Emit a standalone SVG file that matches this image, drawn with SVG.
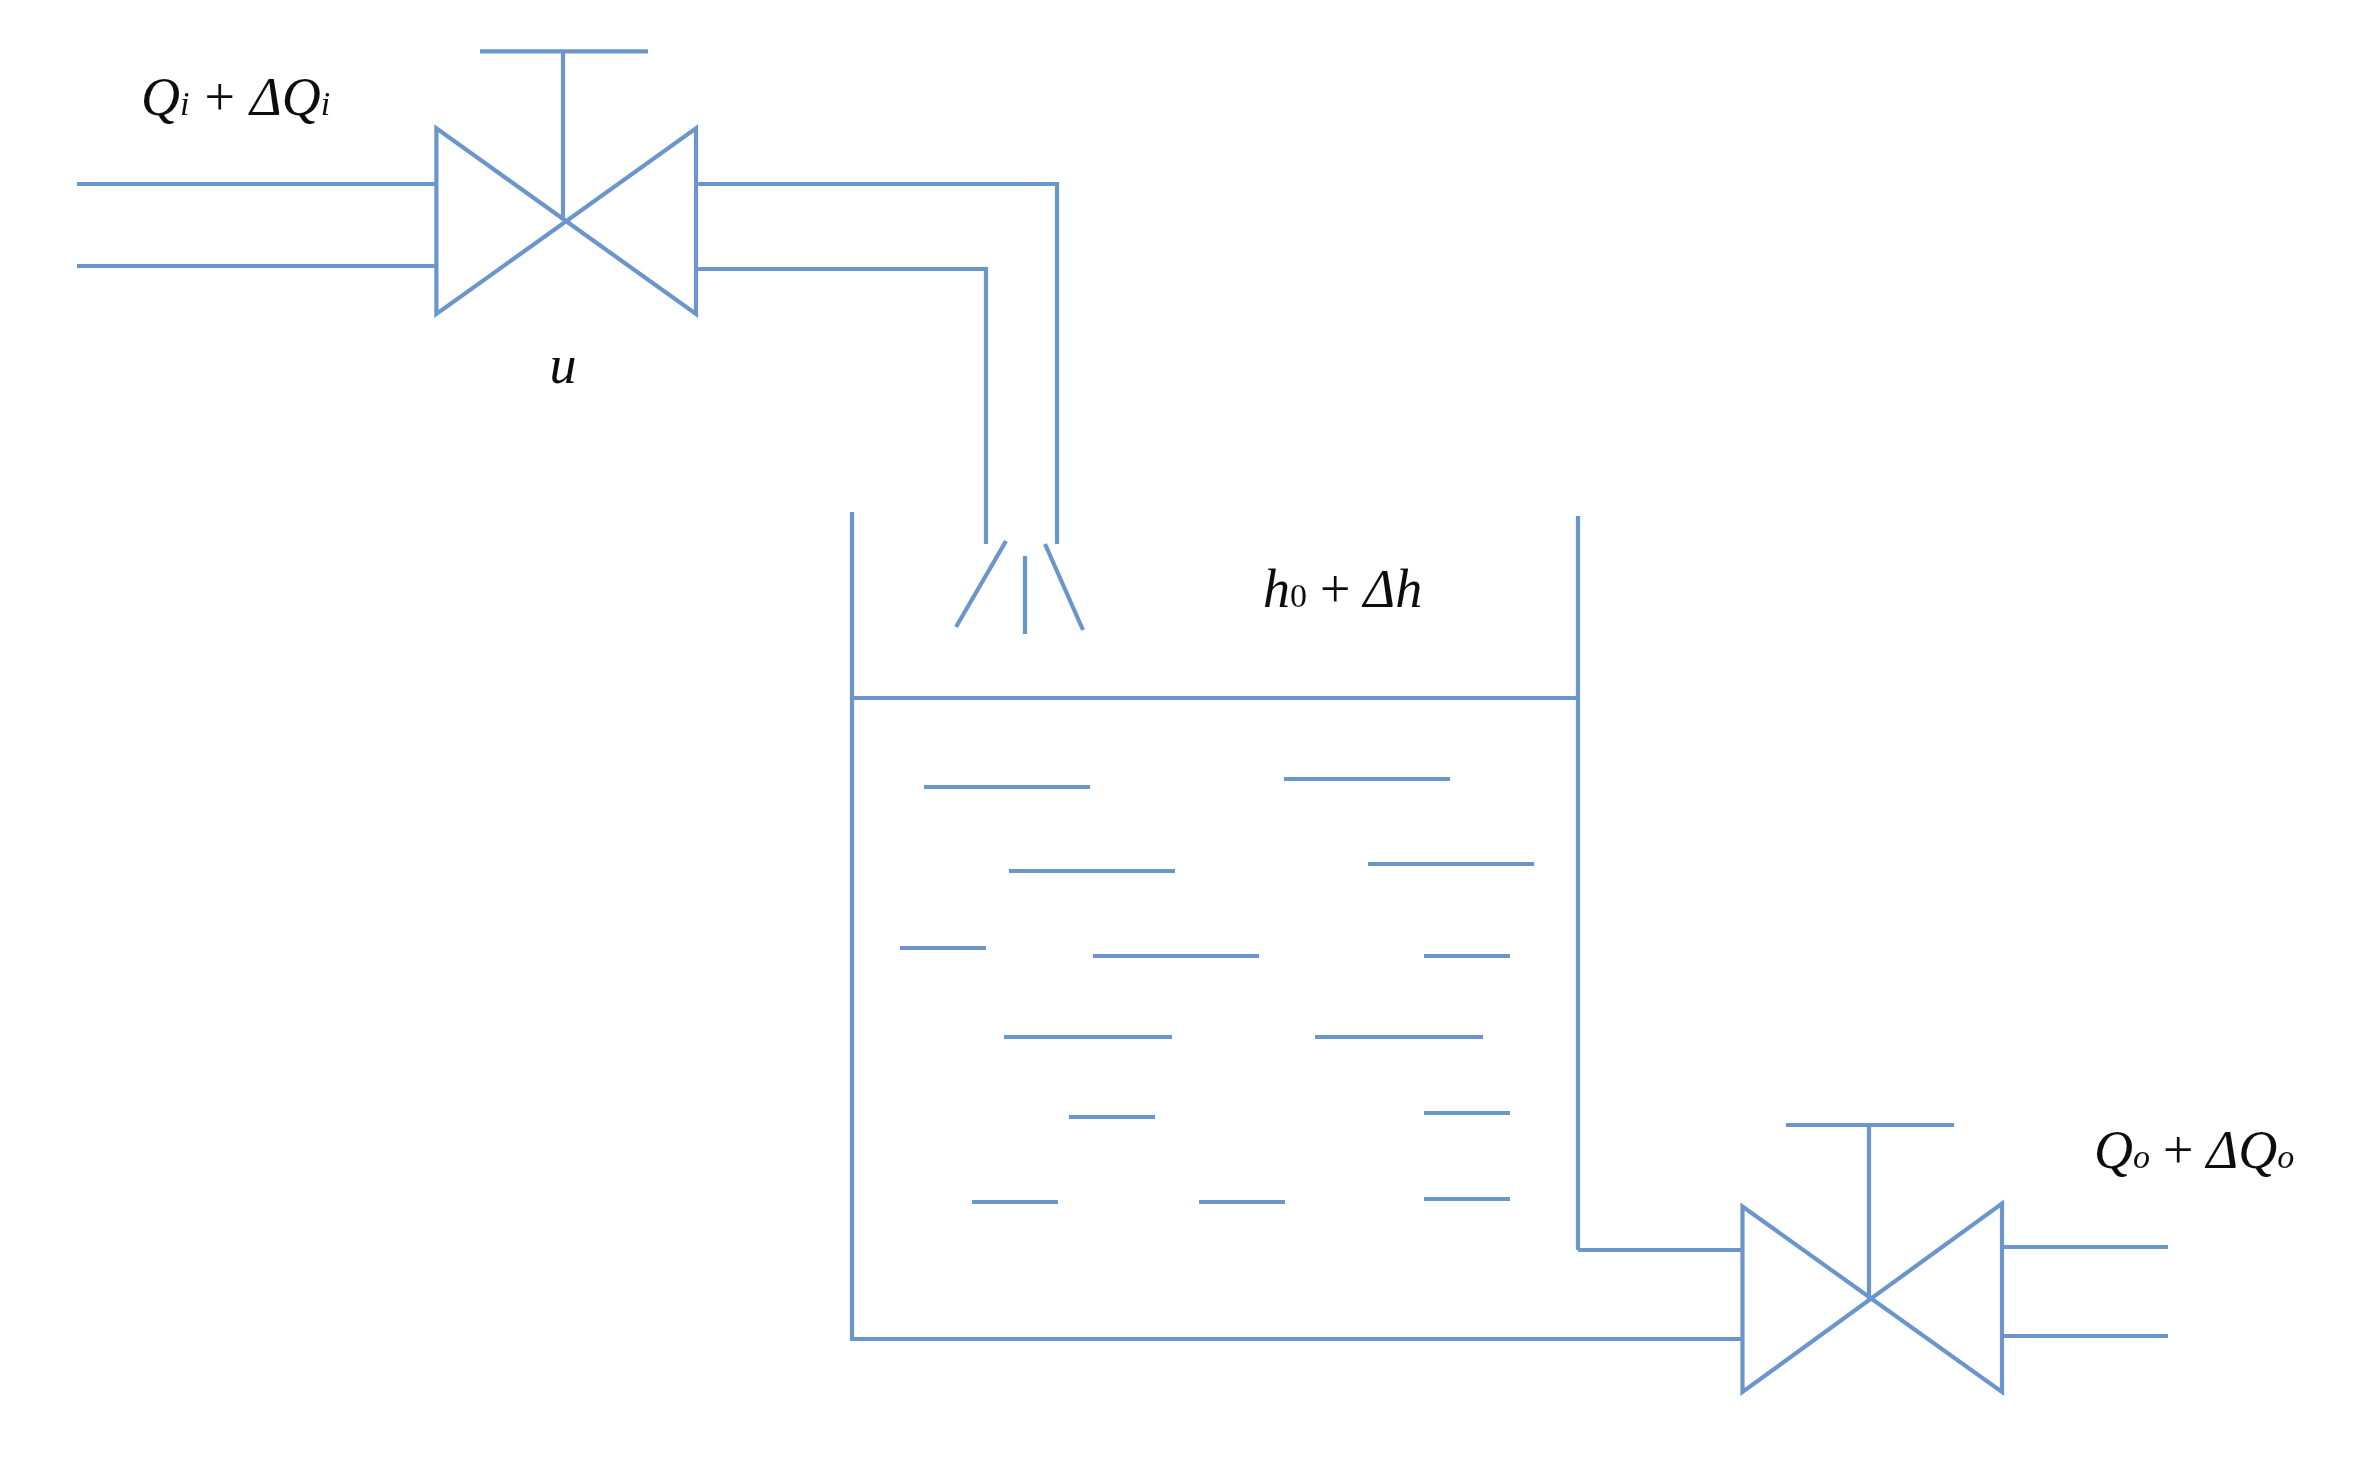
<svg xmlns="http://www.w3.org/2000/svg" width="2367" height="1457" viewBox="0 0 2367 1457">
<defs><filter id="soft" filterUnits="userSpaceOnUse" x="0" y="0" width="2367" height="1457"><feGaussianBlur stdDeviation="0.7"/></filter></defs>
<style>
.l{fill:none;stroke:#6b96cb;stroke-width:4.2;stroke-linejoin:miter}
.g{filter:url(#soft)}
text{font-family:"Liberation Serif","Times New Roman",serif;font-style:italic;font-size:54px;fill:#111111}
.s{font-size:34px}
.n{font-style:normal}
</style>
<rect width="2367" height="1457" fill="#ffffff"/>
<g id="connectors" class="g">
<path class="l" d="M77 184H436M77 266H436"/>
<path class="l" d="M696 184H1057V544M696 269H986V544"/>
<path class="l" d="M2002 1247H2168M2002 1336H2168"/>
<path class="l" d="M1578 1250H1742"/>
</g>
<g id="valve-in" class="g">
<path class="l" d="M436.400 128.400V314L696 128.400V314Z"/>
<path class="l" d="M563 51.300V220M480 51.300H648"/>
</g>
<g id="valve-out" class="g">
<path class="l" d="M1742.500 1206.500V1392L2002 1203.500V1392Z"/>
<path class="l" d="M1869 1125V1299M1786 1125H1954"/>
</g>
<g id="tank" class="g">
<path class="l" d="M852 512V1339H1742"/>
<path class="l" d="M1578 516V1250"/>
<path class="l" d="M852 698H1578"/>
</g>
<g id="spray" class="g">
<path class="l" d="M1006 541L956 627M1025 556V634M1045 544L1083 630"/>
</g>
<g id="water" class="g">
<path class="l" d="M924 787H1090M1284 779H1450M1009 871H1175M1368 864H1534M900 948H986M1093 956H1259M1424 956H1510M1004 1037H1172M1315 1037H1483M1069 1117H1155M1424 1113H1510M972 1202H1058M1199 1202H1285M1424 1199H1510"/>
</g>
<g id="labels" class="g">
<text x="141" y="115">Q<tspan class="s">i</tspan><tspan dx="15" class="n">+</tspan><tspan dx="15">Δ</tspan>Q<tspan class="s">i</tspan></text>
<text x="563" y="383" text-anchor="middle">u</text>
<text x="1263" y="607">h<tspan class="s n">0</tspan><tspan dx="13" class="n">+</tspan><tspan dx="13">Δ</tspan>h</text>
<text x="2094" y="1168">Q<tspan class="s">o</tspan><tspan dx="13" class="n">+</tspan><tspan dx="13">Δ</tspan>Q<tspan class="s">o</tspan></text>
</g>
</svg>
